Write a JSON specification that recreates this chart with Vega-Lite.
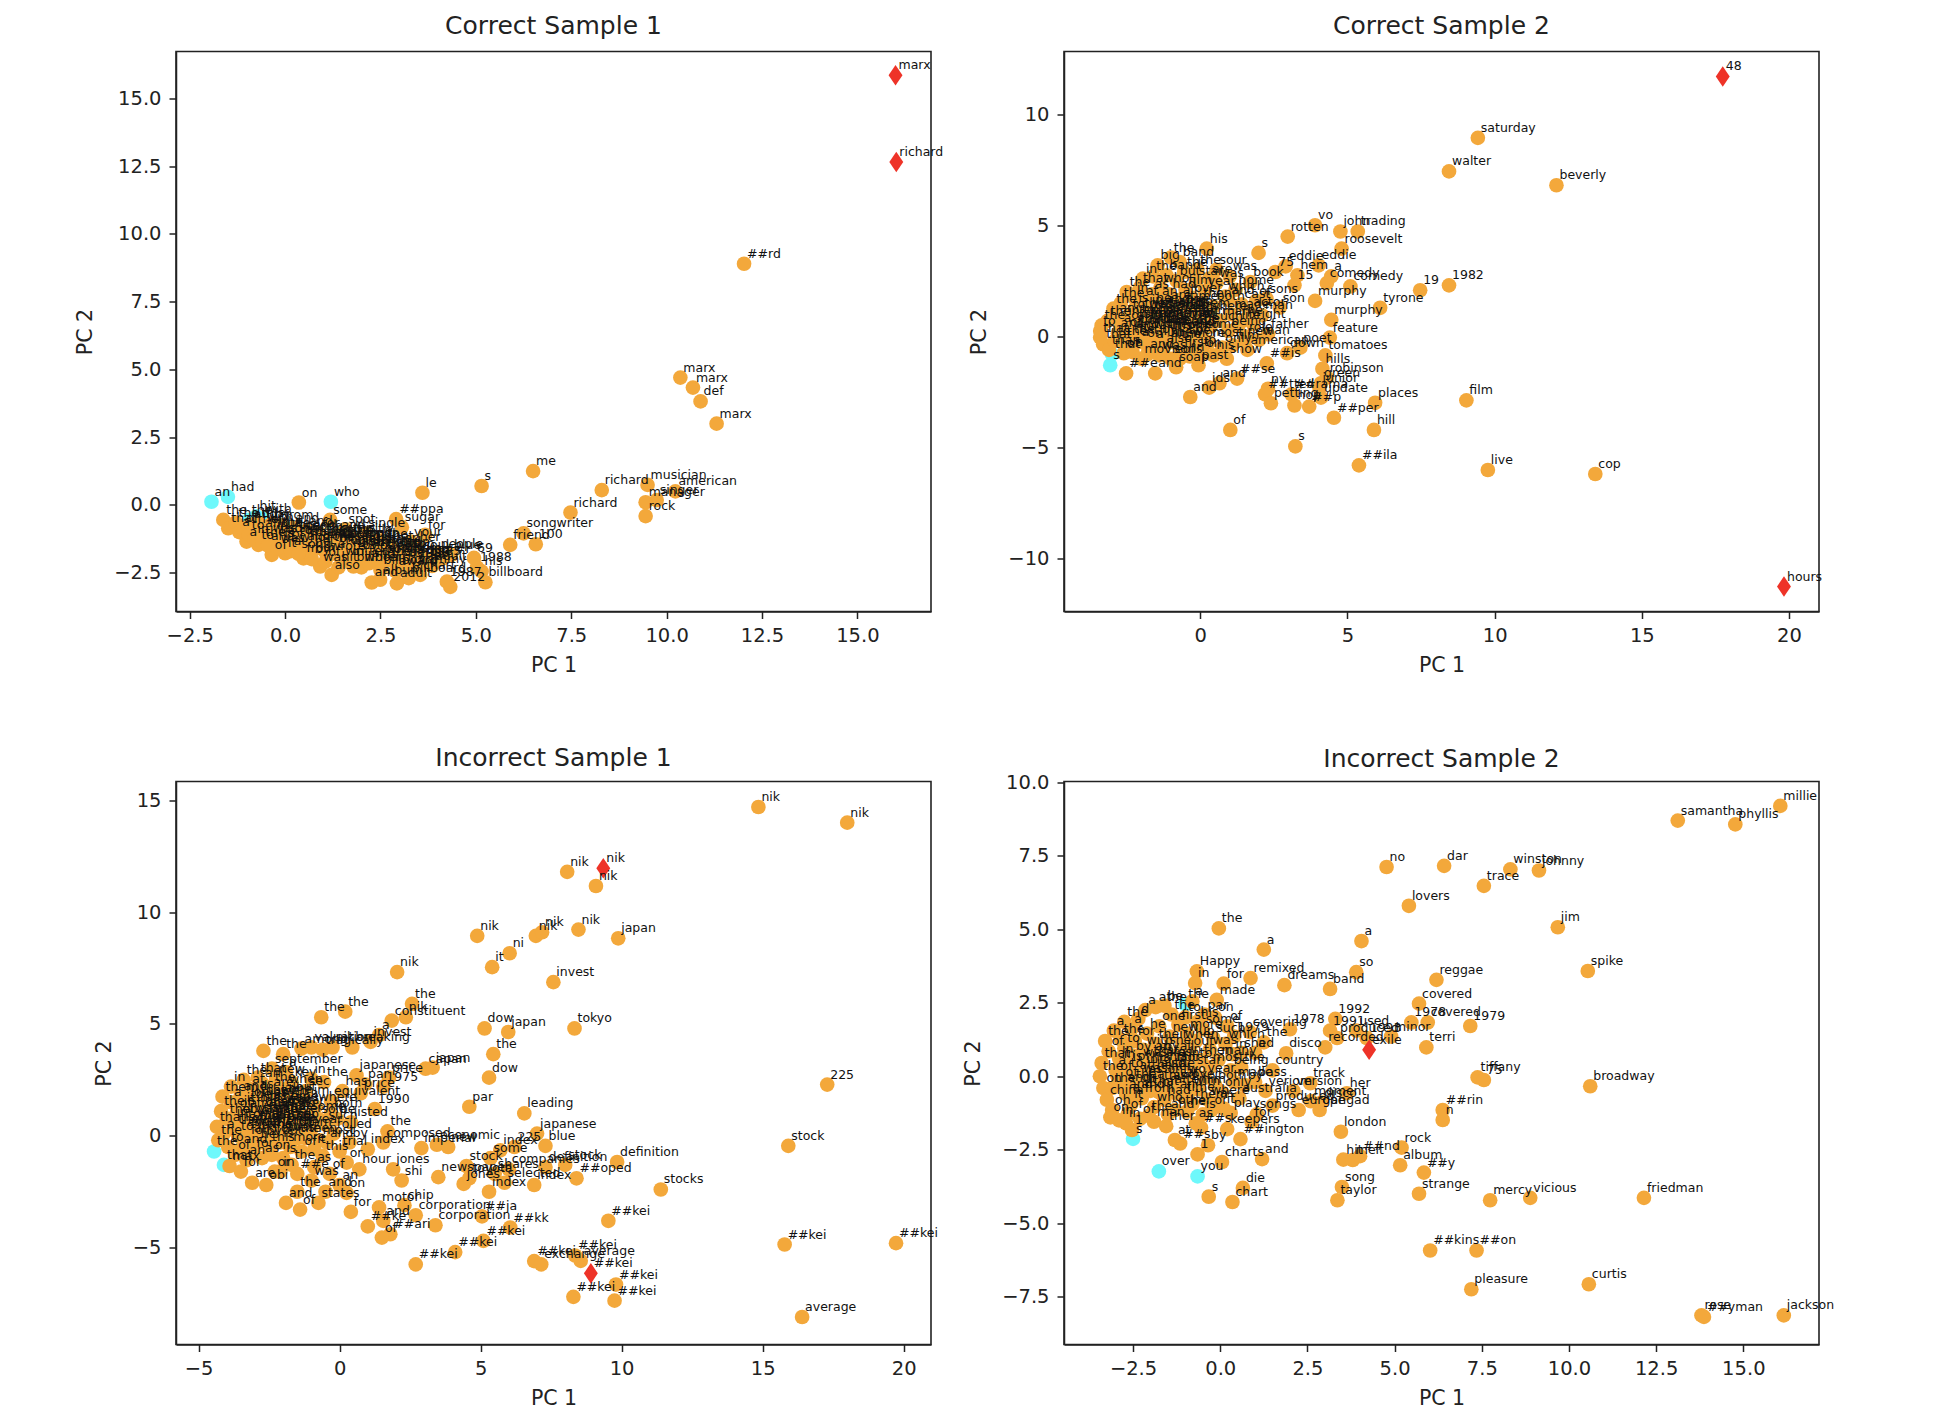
{"$schema":"https://vega.github.io/schema/vega-lite/v6.json","padding":{"left":74,"top":12.5,"right":0,"bottom":0},"background":"white","bounds":"flush","columns":2,"spacing":{"row":170,"column":133},
"config":{"view":{"stroke":"#222","strokeWidth":1.6},"axis":{"grid":false,"labelFont":"DejaVu Sans","titleFont":"DejaVu Sans","labelFontSize":19.5,"titleFontSize":20.5,"titleFontWeight":"normal","labelColor":"#222","titleColor":"#222","tickColor":"#222","domainColor":"#222","tickSize":7,"tickWidth":1.5,"domainWidth":1.5,"labelPadding":8,"labelOverlap":false,"labelFlush":false},"axisX":{"titlePadding":10},"axisY":{"titlePadding":18},"title":{"font":"DejaVu Sans","fontSize":25,"fontWeight":"normal","color":"#222","offset":13,"anchor":"middle"}},
"datasets":{
"a":[{"x":-1.93,"y":0.12,"t":"an","k":"c"},{"x":-1.5,"y":0.3,"t":"had","k":"c"},{"x":1.2,"y":0.12,"t":"who","k":"c"},{"x":-0.95,"y":-0.55,"t":"the","k":"c"},{"x":-0.75,"y":-0.42,"t":"hit","k":"c"},{"x":-0.6,"y":-0.5,"t":"with","k":"c"},
{"x":16.0,"y":15.85,"t":"marx","k":"r"},{"x":16.02,"y":12.65,"t":"richard","k":"r"},{"x":12.03,"y":8.9,"t":"##rd","k":"o"},{"x":10.36,"y":4.7,"t":"marx","k":"o"},{"x":10.69,"y":4.33,"t":"marx","k":"o"},{"x":10.89,"y":3.82,"t":"def","k":"o"},{"x":11.31,"y":3.0,"t":"marx","k":"o"},{"x":9.5,"y":0.74,"t":"musician","k":"o"},{"x":10.23,"y":0.5,"t":"american","k":"o"},{"x":8.3,"y":0.55,"t":"richard","k":"o"},{"x":9.45,"y":0.1,"t":"manager","k":"o"},{"x":9.74,"y":0.18,"t":"singer","k":"o"},{"x":9.45,"y":-0.41,"t":"rock","k":"o"},{"x":7.48,"y":-0.28,"t":"richard","k":"o"},{"x":6.5,"y":1.25,"t":"me","k":"o"},{"x":5.15,"y":0.7,"t":"s","k":"o"},{"x":3.6,"y":0.45,"t":"le","k":"o"},{"x":0.36,"y":0.09,"t":"on","k":"o"},{"x":5.9,"y":-1.47,"t":"friend","k":"o"},{"x":6.25,"y":-1.05,"t":"songwriter","k":"o"},{"x":6.57,"y":-1.45,"t":"100","k":"o"},{"x":5.25,"y":-2.85,"t":"billboard","k":"o"},{"x":4.33,"y":-3.02,"t":"2012","k":"o"},{"x":5.03,"y":-2.3,"t":"1988","k":"o"},{"x":4.95,"y":-1.95,"t":"69","k":"o"},{"x":5.15,"y":-2.45,"t":"his","k":"o"},{"x":4.24,"y":-2.83,"t":"1987","k":"o"},
{"x":-1.62,"y":-0.55,"t":"the","k":"o"},{"x":-1.49,"y":-0.86,"t":"that","k":"o"},{"x":-1.01,"y":-1.35,"t":"a","k":"o"},{"x":-0.7,"y":-1.47,"t":"to","k":"o"},{"x":-0.35,"y":-1.84,"t":"of","k":"o"},{"x":0.0,"y":-1.78,"t":"it","k":"o"},{"x":0.48,"y":-1.97,"t":"from","k":"o"},{"x":0.92,"y":-2.27,"t":"was","k":"o"},{"x":1.22,"y":-2.58,"t":"also","k":"o"},{"x":1.79,"y":-2.27,"t":"billboard","k":"o"},{"x":2.27,"y":-2.86,"t":"and","k":"o"},{"x":2.49,"y":-2.76,"t":"album","k":"o"},{"x":2.93,"y":-2.89,"t":"adult","k":"o"},{"x":3.24,"y":-2.7,"t":"billboard","k":"o"},{"x":3.54,"y":-2.58,"t":"chart","k":"o"},
{"x":1.18,"y":-0.55,"t":"some","k":"o"},{"x":1.58,"y":-0.9,"t":"spot","k":"o"},{"x":2.91,"y":-0.52,"t":"##ppa","k":"o"},{"x":3.06,"y":-0.82,"t":"sugar","k":"o"},{"x":3.67,"y":-1.1,"t":"for","k":"o"},{"x":3.3,"y":-1.35,"t":"your","k":"o"},{"x":3.45,"y":-1.55,"t":"her","k":"o"},{"x":2.1,"y":-1.05,"t":"single","k":"o"},{"x":2.45,"y":-1.3,"t":"le","k":"o"},{"x":2.75,"y":-1.5,"t":"hot","k":"o"},
{"x":-0.9,"y":-0.72,"t":"and","k":"o"},{"x":-0.7,"y":-0.65,"t":"this","k":"o"},{"x":-0.55,"y":-0.8,"t":"with","k":"o"},{"x":-0.35,"y":-0.7,"t":"by","k":"o"},{"x":-0.25,"y":-0.95,"t":"in","k":"o"},{"x":-0.1,"y":-0.75,"t":"from","k":"o"},{"x":0.05,"y":-1.05,"t":"the","k":"o"},{"x":0.2,"y":-0.85,"t":"and","k":"o"},{"x":0.3,"y":-1.1,"t":"on","k":"o"},{"x":0.45,"y":-1.25,"t":"at","k":"o"},{"x":0.55,"y":-0.95,"t":"and","k":"o"},{"x":0.65,"y":-1.15,"t":"song","k":"o"},{"x":0.8,"y":-1.35,"t":"band","k":"o"},{"x":0.9,"y":-1.05,"t":"for","k":"o"},{"x":1.0,"y":-1.25,"t":"the","k":"o"},{"x":1.15,"y":-1.5,"t":"one","k":"o"},{"x":1.25,"y":-1.2,"t":"music","k":"o"},{"x":1.35,"y":-1.4,"t":"album","k":"o"},{"x":1.5,"y":-1.65,"t":"top","k":"o"},{"x":1.6,"y":-1.3,"t":"title","k":"o"},{"x":1.75,"y":-1.5,"t":"single","k":"o"},{"x":1.85,"y":-1.75,"t":"chart","k":"o"},{"x":1.95,"y":-1.4,"t":"song","k":"o"},{"x":2.1,"y":-1.6,"t":"number","k":"o"},{"x":2.2,"y":-1.85,"t":"hot","k":"o"},{"x":2.35,"y":-1.55,"t":"us","k":"o"},{"x":2.45,"y":-1.75,"t":"record","k":"o"},{"x":2.6,"y":-2.0,"t":"songs","k":"o"},{"x":2.7,"y":-1.7,"t":"hit","k":"o"},{"x":2.85,"y":-1.9,"t":"peak","k":"o"},{"x":3.0,"y":-2.1,"t":"charts","k":"o"},{"x":3.1,"y":-1.75,"t":"pop","k":"o"},{"x":3.25,"y":-1.95,"t":"r","k":"o"},{"x":3.4,"y":-2.15,"t":"1986","k":"o"},{"x":3.55,"y":-1.85,"t":"soul","k":"o"},{"x":3.7,"y":-2.05,"t":"1985","k":"o"},{"x":3.85,"y":-2.25,"t":"adult","k":"o"},{"x":4.0,"y":-1.8,"t":"people","k":"o"},{"x":4.1,"y":-2.0,"t":"##r","k":"o"},{"x":4.35,"y":-1.85,"t":"blue","k":"o"},{"x":-0.4,"y":-1.2,"t":"was","k":"o"},{"x":-0.1,"y":-1.4,"t":"is","k":"o"},{"x":0.3,"y":-1.55,"t":"who","k":"o"},{"x":0.7,"y":-1.7,"t":"he","k":"o"},{"x":1.1,"y":-1.9,"t":"wrote","k":"o"},{"x":1.5,"y":-2.05,"t":"written","k":"o"},{"x":2.0,"y":-2.3,"t":"writer","k":"o"},{"x":2.5,"y":-2.4,"t":"billboard","k":"o"},{"x":2.9,"y":-2.45,"t":"award","k":"o"},{"x":3.3,"y":-2.35,"t":"grammy","k":"o"},
{"x":-0.8,"y":-0.9,"t":"the","k":"o"},{"x":-0.6,"y":-1.05,"t":"and","k":"o"},{"x":-0.45,"y":-0.9,"t":"of","k":"o"},{"x":-0.3,"y":-1.1,"t":"in","k":"o"},{"x":-0.15,"y":-1.0,"t":"the","k":"o"},{"x":0.0,"y":-1.2,"t":"song","k":"o"},{"x":0.15,"y":-1.05,"t":"a","k":"o"},{"x":0.3,"y":-1.3,"t":"to","k":"o"},{"x":0.45,"y":-1.1,"t":"band","k":"o"},{"x":0.6,"y":-1.35,"t":"for","k":"o"},{"x":0.75,"y":-1.2,"t":"it","k":"o"},{"x":0.9,"y":-1.45,"t":"and","k":"o"},{"x":1.05,"y":-1.35,"t":"from","k":"o"},{"x":1.2,"y":-1.55,"t":"the","k":"o"},{"x":1.35,"y":-1.6,"t":"of","k":"o"},{"x":1.5,"y":-1.45,"t":"album","k":"o"},{"x":1.65,"y":-1.7,"t":"was","k":"o"},{"x":1.8,"y":-1.6,"t":"hit","k":"o"},{"x":1.95,"y":-1.85,"t":"by","k":"o"},{"x":2.1,"y":-1.75,"t":"on","k":"o"},{"x":2.25,"y":-1.65,"t":"song","k":"o"},{"x":2.4,"y":-1.95,"t":"top","k":"o"},{"x":2.55,"y":-1.8,"t":"chart","k":"o"},{"x":2.7,"y":-2.05,"t":"the","k":"o"},{"x":2.85,"y":-1.75,"t":"and","k":"o"},{"x":3.0,"y":-1.95,"t":"album","k":"o"},{"x":3.15,"y":-2.15,"t":"us","k":"o"},{"x":3.3,"y":-1.8,"t":"top","k":"o"},{"x":3.45,"y":-2.0,"t":"song","k":"o"},{"x":3.6,"y":-2.2,"t":"hot","k":"o"},{"x":1.4,"y":-1.1,"t":"and","k":"o"},{"x":1.7,"y":-1.2,"t":"this","k":"o"},{"x":2.0,"y":-1.25,"t":"with","k":"o"},{"x":2.3,"y":-1.4,"t":"pop","k":"o"},{"x":2.6,"y":-1.45,"t":"the","k":"o"},{"x":-0.2,"y":-1.25,"t":"to","k":"o"},{"x":0.1,"y":-1.45,"t":"of","k":"o"},{"x":0.5,"y":-1.5,"t":"and","k":"o"},{"x":1.0,"y":-1.65,"t":"it","k":"o"},{"x":1.3,"y":-1.8,"t":"a","k":"o"},
{"x":-1.3,"y":-0.65,"t":"the","k":"o"},{"x":-1.2,"y":-1.0,"t":"a","k":"o"},{"x":-1.1,"y":-0.85,"t":"of","k":"o"},{"x":-0.95,"y":-1.1,"t":"to","k":"o"},{"x":-0.8,"y":-1.25,"t":"in","k":"o"},{"x":-0.6,"y":-1.35,"t":"the","k":"o"},{"x":-0.45,"y":-1.5,"t":"and","k":"o"},{"x":-0.2,"y":-1.6,"t":"was","k":"o"},{"x":0.15,"y":-1.7,"t":"a","k":"o"},{"x":0.35,"y":-1.8,"t":"song","k":"o"},{"x":0.7,"y":-2.0,"t":"by","k":"o"},{"x":1.05,"y":-2.1,"t":"of","k":"o"},{"x":1.4,"y":-2.3,"t":"hit","k":"o"},{"x":1.7,"y":-2.05,"t":"in","k":"o"},{"x":2.2,"y":-2.15,"t":"and","k":"o"}],
"b":[{"x":-3.06,"y":-1.29,"t":"s","k":"c"},{"x":-3.0,"y":-0.8,"t":"that","k":"c"},
{"x":17.75,"y":11.69,"t":"48","k":"r"},{"x":19.83,"y":-11.24,"t":"hours","k":"r"},{"x":9.43,"y":8.93,"t":"saturday","k":"o"},{"x":8.45,"y":7.42,"t":"walter","k":"o"},{"x":12.1,"y":6.8,"t":"beverly","k":"o"},{"x":8.45,"y":2.3,"t":"1982","k":"o"},{"x":7.47,"y":2.08,"t":"19","k":"o"},{"x":6.11,"y":1.29,"t":"tyrone","k":"o"},{"x":9.04,"y":-2.87,"t":"film","k":"o"},{"x":5.94,"y":-2.98,"t":"places","k":"o"},{"x":5.9,"y":-4.2,"t":"hill","k":"o"},{"x":4.54,"y":-3.65,"t":"##per","k":"o"},{"x":1.02,"y":-4.2,"t":"of","k":"o"},{"x":3.23,"y":-4.94,"t":"s","k":"o"},{"x":5.39,"y":-5.79,"t":"##ila","k":"o"},{"x":9.77,"y":-6.0,"t":"live","k":"o"},{"x":13.42,"y":-6.18,"t":"cop","k":"o"},{"x":2.97,"y":4.49,"t":"rotten","k":"o"},{"x":3.9,"y":5.0,"t":"vo","k":"o"},{"x":4.76,"y":4.72,"t":"john","k":"o"},{"x":5.35,"y":4.72,"t":"trading","k":"o"},{"x":4.8,"y":3.95,"t":"roosevelt","k":"o"},{"x":4.02,"y":3.2,"t":"eddie","k":"o"},{"x":0.22,"y":3.95,"t":"his","k":"o"},{"x":1.98,"y":3.76,"t":"s","k":"o"},{"x":5.1,"y":2.25,"t":"comedy","k":"o"},{"x":4.3,"y":2.4,"t":"comedy","k":"o"},{"x":2.55,"y":2.9,"t":"75","k":"o"},{"x":2.9,"y":3.15,"t":"eddie","k":"o"},{"x":3.3,"y":2.75,"t":"hem","k":"o"},{"x":4.45,"y":2.7,"t":"a","k":"o"},{"x":3.2,"y":2.3,"t":"15","k":"o"},{"x":3.9,"y":1.6,"t":"murphy","k":"o"},{"x":4.45,"y":0.75,"t":"murphy","k":"o"},{"x":4.4,"y":-0.05,"t":"feature","k":"o"},{"x":3.4,"y":-0.5,"t":"poet","k":"o"},{"x":4.25,"y":-0.85,"t":"tomatoes","k":"o"},{"x":2.95,"y":-0.75,"t":"down","k":"o"},{"x":4.15,"y":-1.45,"t":"hills","k":"o"},{"x":4.3,"y":-1.85,"t":"robinson","k":"o"},{"x":4.1,"y":-2.1,"t":"green","k":"o"},{"x":4.05,"y":-2.3,"t":"junior","k":"o"},{"x":3.1,"y":-2.6,"t":"##rama","k":"o"},{"x":2.3,"y":-2.35,"t":"ny","k":"o"},{"x":2.2,"y":-2.6,"t":"##tted","k":"o"},{"x":2.4,"y":-3.0,"t":"petting","k":"o"},{"x":3.2,"y":-3.1,"t":"hop","k":"o"},{"x":3.7,"y":-3.15,"t":"##p","k":"o"},{"x":4.1,"y":-2.75,"t":"update","k":"o"},
{"x":-0.34,"y":-2.72,"t":"and","k":"o"},{"x":-2.52,"y":-1.66,"t":"##e","k":"o"},{"x":-1.53,"y":-1.66,"t":"and","k":"o"},{"x":-0.82,"y":-1.38,"t":"soap","k":"o"},{"x":-0.06,"y":-1.29,"t":"past","k":"o"},{"x":1.25,"y":-1.89,"t":"##se","k":"o"},{"x":2.26,"y":-1.21,"t":"##is","k":"o"},{"x":0.3,"y":-2.3,"t":"ids","k":"o"},{"x":0.65,"y":-2.1,"t":"and","k":"o"},{"x":-2.0,"y":-1.0,"t":"movie","k":"o"},{"x":-1.0,"y":-1.0,"t":"sons","k":"o"},{"x":0.9,"y":-1.0,"t":"show","k":"o"},{"x":1.6,"y":-0.6,"t":"american","k":"o"},
{"x":-3.4,"y":-0.05,"t":"that","k":"o"},{"x":-3.35,"y":0.5,"t":"the","k":"o"},{"x":-3.4,"y":0.25,"t":"to","k":"o"},{"x":-3.3,"y":-0.35,"t":"that","k":"o"},{"x":-2.95,"y":1.25,"t":"the","k":"o"},{"x":-2.85,"y":0.85,"t":"an","k":"o"},{"x":-2.5,"y":2.0,"t":"the","k":"o"},{"x":-1.95,"y":2.6,"t":"in","k":"o"},{"x":-1.45,"y":3.2,"t":"big","k":"o"},{"x":-1.0,"y":3.55,"t":"the","k":"o"},{"x":-0.7,"y":3.35,"t":"band","k":"o"},{"x":-0.1,"y":3.0,"t":"the","k":"o"},{"x":0.55,"y":3.0,"t":"sour","k":"o"},{"x":1.0,"y":2.7,"t":"was","k":"o"},{"x":1.7,"y":2.45,"t":"book","k":"o"},{"x":2.25,"y":1.7,"t":"sons","k":"o"},{"x":2.7,"y":1.3,"t":"son","k":"o"},{"x":2.1,"y":0.95,"t":"man","k":"o"},{"x":1.8,"y":0.55,"t":"right","k":"o"},{"x":2.3,"y":0.1,"t":"father","k":"o"},{"x":1.5,"y":-0.2,"t":"new","k":"o"},
{"x":-2.7,"y":0.4,"t":"a","k":"o"},{"x":-2.55,"y":0.7,"t":"in","k":"o"},{"x":-2.5,"y":0.2,"t":"of","k":"o"},{"x":-2.4,"y":1.0,"t":"to","k":"o"},{"x":-2.35,"y":-0.1,"t":"the","k":"o"},{"x":-2.25,"y":0.5,"t":"and","k":"o"},{"x":-2.2,"y":1.3,"t":"is","k":"o"},{"x":-2.15,"y":0.0,"t":"it","k":"o"},{"x":-2.1,"y":0.8,"t":"by","k":"o"},{"x":-2.0,"y":0.3,"t":"for","k":"o"},{"x":-1.95,"y":1.6,"t":"at","k":"o"},{"x":-1.9,"y":-0.3,"t":"on","k":"o"},{"x":-1.85,"y":1.0,"t":"was","k":"o"},{"x":-1.8,"y":0.6,"t":"from","k":"o"},{"x":-1.7,"y":0.1,"t":"with","k":"o"},{"x":-1.65,"y":1.9,"t":"as","k":"o"},{"x":-1.6,"y":1.3,"t":"he","k":"o"},{"x":-1.55,"y":0.8,"t":"his","k":"o"},{"x":-1.5,"y":-0.2,"t":"film","k":"o"},{"x":-1.45,"y":0.35,"t":"that","k":"o"},{"x":-1.4,"y":1.6,"t":"an","k":"o"},{"x":-1.35,"y":2.2,"t":"who","k":"o"},{"x":-1.3,"y":1.05,"t":"their","k":"o"},{"x":-1.25,"y":-0.5,"t":"also","k":"o"},{"x":-1.2,"y":0.6,"t":"one","k":"o"},{"x":-1.15,"y":0.05,"t":"this","k":"o"},{"x":-1.1,"y":1.4,"t":"are","k":"o"},{"x":-1.05,"y":1.9,"t":"had","k":"o"},{"x":-1.0,"y":0.85,"t":"she","k":"o"},{"x":-0.95,"y":0.3,"t":"her","k":"o"},{"x":-0.9,"y":-0.25,"t":"new","k":"o"},{"x":-0.85,"y":1.15,"t":"after","k":"o"},{"x":-0.8,"y":2.5,"t":"but","k":"o"},{"x":-0.75,"y":0.55,"t":"other","k":"o"},{"x":-0.7,"y":1.65,"t":"all","k":"o"},{"x":-0.65,"y":-0.7,"t":"first","k":"o"},{"x":-0.6,"y":0.95,"t":"two","k":"o"},{"x":-0.55,"y":0.1,"t":"when","k":"o"},{"x":-0.5,"y":2.1,"t":"film","k":"o"},{"x":-0.45,"y":1.35,"t":"time","k":"o"},{"x":-0.4,"y":0.6,"t":"into","k":"o"},{"x":-0.35,"y":-0.3,"t":"more","k":"o"},{"x":-0.3,"y":1.75,"t":"over","k":"o"},{"x":-0.25,"y":0.3,"t":"out","k":"o"},{"x":-0.2,"y":1.05,"t":"them","k":"o"},{"x":-0.15,"y":2.5,"t":"star","k":"o"},{"x":-0.1,"y":-0.6,"t":"up","k":"o"},{"x":-0.05,"y":0.75,"t":"him","k":"o"},{"x":0.0,"y":1.5,"t":"then","k":"o"},{"x":0.05,"y":0.1,"t":"some","k":"o"},{"x":0.15,"y":2.05,"t":"year","k":"o"},{"x":0.2,"y":0.9,"t":"where","k":"o"},{"x":0.3,"y":-0.25,"t":"most","k":"o"},{"x":0.35,"y":0.45,"t":"such","k":"o"},{"x":0.45,"y":1.35,"t":"both","k":"o"},{"x":0.55,"y":2.4,"t":"was","k":"o"},{"x":0.65,"y":0.7,"t":"many","k":"o"},{"x":0.75,"y":-0.5,"t":"only","k":"o"},{"x":0.85,"y":1.8,"t":"which","k":"o"},{"x":0.95,"y":0.25,"t":"being","k":"o"},{"x":1.05,"y":1.0,"t":"made","k":"o"},{"x":1.2,"y":2.1,"t":"home","k":"o"},{"x":1.3,"y":0.5,"t":"life","k":"o"},{"x":1.4,"y":1.45,"t":"cast","k":"o"},{"x":1.55,"y":0.0,"t":"role","k":"o"},{"x":1.7,"y":1.1,"t":"actor","k":"o"},
{"x":-2.6,"y":-0.2,"t":"the","k":"o"},{"x":-2.45,"y":0.5,"t":"of","k":"o"},{"x":-2.3,"y":0.1,"t":"and","k":"o"},{"x":-2.3,"y":0.85,"t":"in","k":"o"},{"x":-2.15,"y":0.35,"t":"to","k":"o"},{"x":-2.1,"y":-0.25,"t":"a","k":"o"},{"x":-2.05,"y":0.6,"t":"film","k":"o"},{"x":-2.0,"y":1.05,"t":"the","k":"o"},{"x":-1.95,"y":0.05,"t":"of","k":"o"},{"x":-1.9,"y":0.4,"t":"and","k":"o"},{"x":-1.85,"y":0.75,"t":"was","k":"o"},{"x":-1.8,"y":-0.15,"t":"it","k":"o"},{"x":-1.75,"y":1.2,"t":"in","k":"o"},{"x":-1.7,"y":0.45,"t":"the","k":"o"},{"x":-1.65,"y":0.95,"t":"that","k":"o"},{"x":-1.6,"y":-0.35,"t":"a","k":"o"},{"x":-1.55,"y":0.2,"t":"he","k":"o"},{"x":-1.5,"y":0.6,"t":"to","k":"o"},{"x":-1.45,"y":1.05,"t":"of","k":"o"},{"x":-1.4,"y":-0.1,"t":"by","k":"o"},{"x":-1.35,"y":0.35,"t":"on","k":"o"},{"x":-1.3,"y":0.75,"t":"his","k":"o"},{"x":-1.25,"y":1.25,"t":"and","k":"o"},{"x":-1.2,"y":0.1,"t":"the","k":"o"},{"x":-1.15,"y":0.5,"t":"as","k":"o"},{"x":-1.1,"y":-0.3,"t":"an","k":"o"},{"x":-1.05,"y":0.9,"t":"for","k":"o"},{"x":-1.0,"y":0.25,"t":"at","k":"o"},{"x":-0.95,"y":0.65,"t":"in","k":"o"},{"x":-0.9,"y":1.1,"t":"with","k":"o"},{"x":-0.85,"y":0.05,"t":"from","k":"o"},{"x":-0.8,"y":0.45,"t":"is","k":"o"},{"x":-0.75,"y":-0.35,"t":"the","k":"o"},{"x":-0.7,"y":0.85,"t":"who","k":"o"},{"x":-0.65,"y":0.25,"t":"had","k":"o"},{"x":-0.6,"y":1.25,"t":"one","k":"o"},{"x":-0.55,"y":0.6,"t":"was","k":"o"},{"x":-0.5,"y":-0.15,"t":"she","k":"o"},{"x":-0.45,"y":0.95,"t":"her","k":"o"},{"x":-0.4,"y":0.2,"t":"and","k":"o"},{"x":-0.3,"y":0.7,"t":"film","k":"o"},{"x":-0.25,"y":-0.1,"t":"of","k":"o"},{"x":-0.15,"y":0.4,"t":"the","k":"o"},{"x":-0.1,"y":1.15,"t":"to","k":"o"},{"x":0.0,"y":0.6,"t":"in","k":"o"},
{"x":-3.15,"y":0.7,"t":"the","k":"o"},{"x":-3.1,"y":-0.6,"t":"than","k":"o"},{"x":-2.9,"y":-0.2,"t":"to","k":"o"},{"x":-2.8,"y":0.15,"t":"and","k":"o"},{"x":-2.7,"y":1.5,"t":"the","k":"o"},{"x":-2.6,"y":-0.75,"t":"of","k":"o"},{"x":-2.3,"y":-0.7,"t":"a","k":"o"},{"x":-2.25,"y":1.75,"t":"in","k":"o"},{"x":-2.05,"y":2.2,"t":"that","k":"o"},{"x":-1.8,"y":-0.8,"t":"and","k":"o"},{"x":-1.6,"y":2.7,"t":"the","k":"o"},{"x":-1.4,"y":-0.85,"t":"was","k":"o"},{"x":-1.15,"y":2.75,"t":"band","k":"o"},{"x":-0.7,"y":-1.0,"t":"of","k":"o"},{"x":-0.55,"y":2.9,"t":"the","k":"o"},{"x":-0.35,"y":-0.9,"t":"in","k":"o"},{"x":0.1,"y":-0.75,"t":"on","k":"o"},{"x":0.3,"y":2.6,"t":"are","k":"o"},{"x":0.45,"y":-0.85,"t":"his","k":"o"},{"x":0.95,"y":1.65,"t":"and","k":"o"},{"x":1.1,"y":-0.4,"t":"film","k":"o"},{"x":1.5,"y":0.75,"t":"he","k":"o"},{"x":1.9,"y":1.6,"t":"of","k":"o"},{"x":2.0,"y":-0.15,"t":"man","k":"o"}],
"c":[{"x":-4.45,"y":-0.7,"t":"the","k":"c"},{"x":-4.1,"y":-1.3,"t":"that","k":"c"},
{"x":14.85,"y":14.7,"t":"nik","k":"o"},{"x":18.0,"y":14.0,"t":"nik","k":"o"},{"x":8.07,"y":11.8,"t":"nik","k":"o"},{"x":9.09,"y":11.17,"t":"nik","k":"o"},{"x":9.88,"y":8.83,"t":"japan","k":"o"},{"x":8.47,"y":9.22,"t":"nik","k":"o"},{"x":6.96,"y":8.94,"t":"nik","k":"o"},{"x":7.18,"y":9.1,"t":"nik","k":"o"},{"x":4.88,"y":8.94,"t":"nik","k":"o"},{"x":6.03,"y":8.16,"t":"ni","k":"o"},{"x":5.41,"y":7.54,"t":"it","k":"o"},{"x":2.04,"y":7.32,"t":"nik","k":"o"},{"x":7.58,"y":6.87,"t":"invest","k":"o"},{"x":8.33,"y":4.8,"t":"tokyo","k":"o"},{"x":5.14,"y":4.8,"t":"dow","k":"o"},{"x":5.98,"y":4.64,"t":"japan","k":"o"},{"x":2.57,"y":5.9,"t":"the","k":"o"},{"x":-0.65,"y":5.3,"t":"the","k":"o"},{"x":0.2,"y":5.55,"t":"the","k":"o"},{"x":2.35,"y":5.3,"t":"nik","k":"o"},{"x":1.85,"y":5.15,"t":"constituent","k":"o"},{"x":1.4,"y":4.5,"t":"a","k":"o"},{"x":1.1,"y":4.2,"t":"invest","k":"o"},{"x":0.45,"y":3.95,"t":"breaking","k":"o"},{"x":-1.0,"y":3.95,"t":"valuation","k":"o"},{"x":-0.6,"y":3.85,"t":"tragically","k":"o"},{"x":-0.25,"y":3.95,"t":"nik","k":"o"},{"x":-1.35,"y":3.9,"t":"among","k":"o"},{"x":-2.7,"y":3.8,"t":"the","k":"o"},{"x":-2.0,"y":3.65,"t":"the","k":"o"},{"x":-2.4,"y":3.0,"t":"september","k":"o"},{"x":3.05,"y":3.0,"t":"capan","k":"o"},{"x":3.3,"y":3.05,"t":"japan","k":"o"},{"x":5.45,"y":3.65,"t":"the","k":"o"},{"x":5.3,"y":2.6,"t":"dow","k":"o"},{"x":4.6,"y":1.3,"t":"par","k":"o"},{"x":6.55,"y":1.0,"t":"leading","k":"o"},{"x":7.0,"y":0.1,"t":"japanese","k":"o"},{"x":7.3,"y":-0.45,"t":"blue","k":"o"},{"x":17.29,"y":2.29,"t":"225","k":"o"},{"x":15.91,"y":-0.45,"t":"stock","k":"o"},{"x":9.84,"y":-1.17,"t":"definition","k":"o"},{"x":11.39,"y":-2.4,"t":"stocks","k":"o"},{"x":9.53,"y":-3.8,"t":"##kei","k":"o"},{"x":15.78,"y":-4.86,"t":"##kei","k":"o"},{"x":19.73,"y":-4.8,"t":"##kei","k":"o"},{"x":16.4,"y":-8.1,"t":"average","k":"o"},{"x":9.8,"y":-6.65,"t":"##kei","k":"o"},{"x":9.75,"y":-7.37,"t":"##kei","k":"o"},{"x":8.29,"y":-7.2,"t":"##kei","k":"o"},{"x":8.55,"y":-5.59,"t":"average","k":"o"},{"x":8.35,"y":-5.35,"t":"##kei","k":"o"},{"x":6.9,"y":-5.6,"t":"##kei","k":"o"},{"x":7.15,"y":-5.75,"t":"exchange","k":"o"},{"x":2.7,"y":-5.75,"t":"##kei","k":"o"},{"x":4.1,"y":-5.2,"t":"##kei","k":"o"},{"x":5.1,"y":-4.7,"t":"##kei","k":"o"},{"x":6.05,"y":-4.1,"t":"##kk","k":"o"},{"x":5.05,"y":-3.6,"t":"##ja","k":"o"},{"x":5.3,"y":-2.5,"t":"index","k":"o"},{"x":6.0,"y":-1.5,"t":"companies","k":"o"},{"x":6.9,"y":-2.2,"t":"index","k":"o"},{"x":7.3,"y":-1.4,"t":"definition","k":"o"},{"x":8.0,"y":-1.3,"t":"stock","k":"o"},{"x":8.4,"y":-1.9,"t":"##oped","k":"o"},{"x":4.4,"y":-2.15,"t":"jones","k":"o"},{"x":3.5,"y":-1.85,"t":"newspaper","k":"o"},{"x":2.7,"y":-3.55,"t":"corporation","k":"o"},{"x":3.4,"y":-4.0,"t":"corporation","k":"o"},{"x":2.3,"y":-3.1,"t":"chip","k":"o"},{"x":1.8,"y":-4.4,"t":"##ari","k":"o"},{"x":1.5,"y":-4.55,"t":"of","k":"o"},{"x":1.0,"y":-4.05,"t":"##ke","k":"o"},{"x":1.55,"y":-3.8,"t":"and","k":"o"},{"x":0.4,"y":-3.4,"t":"for","k":"o"},{"x":-0.75,"y":-3.0,"t":"states","k":"o"},{"x":0.25,"y":-2.55,"t":"on","k":"o"},{"x":-1.4,"y":-3.3,"t":"of","k":"o"},{"x":1.4,"y":-3.2,"t":"motor","k":"o"},{"x":3.45,"y":-0.4,"t":"economic","k":"o"},{"x":2.9,"y":-0.55,"t":"imperial","k":"o"},{"x":3.85,"y":-0.5,"t":"new","k":"o"},{"x":4.5,"y":-1.35,"t":"stock","k":"o"},{"x":5.7,"y":-0.65,"t":"index","k":"o"},{"x":6.2,"y":-0.5,"t":"225","k":"o"},{"x":5.35,"y":-1.0,"t":"some","k":"o"},{"x":5.5,"y":-1.7,"t":"shares","k":"o"},{"x":5.85,"y":-2.1,"t":"selected","k":"o"},{"x":4.6,"y":-1.9,"t":"toyota","k":"o"},{"x":2.2,"y":-2.0,"t":"shi","k":"o"},{"x":1.9,"y":-1.5,"t":"jones","k":"o"},{"x":0.7,"y":-1.5,"t":"hour","k":"o"},{"x":1.0,"y":-0.6,"t":"index","k":"o"},{"x":1.7,"y":0.2,"t":"the","k":"o"},{"x":1.55,"y":-0.3,"t":"composed","k":"o"},{"x":1.55,"y":2.2,"t":"1975","k":"o"},{"x":1.25,"y":1.2,"t":"1990","k":"o"},{"x":0.75,"y":1.9,"t":"price","k":"o"},{"x":1.75,"y":2.6,"t":"price","k":"o"},{"x":0.9,"y":2.3,"t":"par","k":"o"},{"x":0.6,"y":2.7,"t":"japanese","k":"o"},{"x":-0.3,"y":1.55,"t":"equivalent","k":"o"},
{"x":-4.3,"y":-0.2,"t":"the","k":"o"},{"x":-4.35,"y":0.4,"t":"that","k":"o"},{"x":-4.2,"y":1.1,"t":"the","k":"o"},{"x":-4.15,"y":1.75,"t":"them","k":"o"},{"x":-3.9,"y":-1.35,"t":"max","k":"o"},{"x":-3.5,"y":-1.6,"t":"for","k":"o"},{"x":-3.1,"y":-2.1,"t":"are","k":"o"},{"x":-2.6,"y":-2.2,"t":"obi","k":"o"},{"x":-2.1,"y":-1.6,"t":"in","k":"o"},{"x":-1.9,"y":-3.0,"t":"and","k":"o"},{"x":-1.5,"y":-2.5,"t":"the","k":"o"},{"x":-1.0,"y":-2.0,"t":"was","k":"o"},{"x":-0.5,"y":-2.5,"t":"and","k":"o"},{"x":0.0,"y":-2.2,"t":"an","k":"o"},{"x":-1.5,"y":-1.7,"t":"##e","k":"o"},{"x":-0.9,"y":-1.4,"t":"as","k":"o"},{"x":-0.35,"y":-1.7,"t":"of","k":"o"},{"x":0.25,"y":-1.2,"t":"or","k":"o"},{"x":-0.6,"y":-0.9,"t":"this","k":"o"},{"x":0.0,"y":-0.7,"t":"trial","k":"o"},{"x":-0.2,"y":0.1,"t":"rolled","k":"o"},{"x":0.4,"y":0.6,"t":"listed","k":"o"},{"x":-0.75,"y":0.75,"t":"sold","k":"o"},{"x":-1.2,"y":2.0,"t":"sec","k":"o"},{"x":-1.7,"y":2.4,"t":"key","k":"o"},{"x":-2.4,"y":2.2,"t":"the","k":"o"},
{"x":-3.85,"y":1.5,"t":"a","k":"o"},{"x":-3.75,"y":0.6,"t":"in","k":"o"},{"x":-3.65,"y":1.0,"t":"of","k":"o"},{"x":-3.6,"y":0.0,"t":"to","k":"o"},{"x":-3.5,"y":1.8,"t":"and","k":"o"},{"x":-3.45,"y":0.4,"t":"is","k":"o"},{"x":-3.4,"y":1.25,"t":"it","k":"o"},{"x":-3.3,"y":0.75,"t":"by","k":"o"},{"x":-3.25,"y":-0.2,"t":"for","k":"o"},{"x":-3.2,"y":2.1,"t":"at","k":"o"},{"x":-3.15,"y":1.5,"t":"on","k":"o"},{"x":-3.1,"y":0.2,"t":"was","k":"o"},{"x":-3.05,"y":1.0,"t":"from","k":"o"},{"x":-3.0,"y":0.55,"t":"with","k":"o"},{"x":-2.95,"y":1.85,"t":"as","k":"o"},{"x":-2.9,"y":-0.35,"t":"he","k":"o"},{"x":-2.85,"y":1.3,"t":"his","k":"o"},{"x":-2.8,"y":0.8,"t":"that","k":"o"},{"x":-2.75,"y":2.35,"t":"an","k":"o"},{"x":-2.7,"y":0.1,"t":"who","k":"o"},{"x":-2.65,"y":1.6,"t":"their","k":"o"},{"x":-2.6,"y":1.05,"t":"also","k":"o"},{"x":-2.55,"y":0.45,"t":"one","k":"o"},{"x":-2.5,"y":-0.5,"t":"this","k":"o"},{"x":-2.45,"y":1.95,"t":"are","k":"o"},{"x":-2.4,"y":0.75,"t":"had","k":"o"},{"x":-2.35,"y":1.35,"t":"she","k":"o"},{"x":-2.3,"y":0.2,"t":"her","k":"o"},{"x":-2.25,"y":2.55,"t":"new","k":"o"},{"x":-2.2,"y":1.1,"t":"after","k":"o"},{"x":-2.15,"y":-0.2,"t":"but","k":"o"},{"x":-2.1,"y":0.55,"t":"other","k":"o"},{"x":-2.05,"y":1.7,"t":"all","k":"o"},{"x":-2.0,"y":0.95,"t":"first","k":"o"},{"x":-1.95,"y":0.0,"t":"two","k":"o"},{"x":-1.9,"y":2.1,"t":"when","k":"o"},{"x":-1.85,"y":1.35,"t":"time","k":"o"},{"x":-1.8,"y":0.4,"t":"into","k":"o"},{"x":-1.75,"y":-0.5,"t":"more","k":"o"},{"x":-1.7,"y":0.8,"t":"over","k":"o"},{"x":-1.65,"y":1.75,"t":"out","k":"o"},{"x":-1.55,"y":0.15,"t":"them","k":"o"},{"x":-1.5,"y":1.15,"t":"star","k":"o"},{"x":-1.4,"y":0.55,"t":"up","k":"o"},{"x":-1.3,"y":1.6,"t":"him","k":"o"},{"x":-1.2,"y":-0.1,"t":"then","k":"o"},{"x":-1.1,"y":0.9,"t":"some","k":"o"},{"x":-1.0,"y":0.3,"t":"year","k":"o"},{"x":-0.85,"y":1.3,"t":"where","k":"o"},{"x":-0.7,"y":-0.2,"t":"most","k":"o"},{"x":-0.5,"y":0.5,"t":"such","k":"o"},{"x":-0.3,"y":1.0,"t":"both","k":"o"},
{"x":-3.7,"y":0.3,"t":"the","k":"o"},{"x":-3.55,"y":0.75,"t":"of","k":"o"},{"x":-3.5,"y":1.1,"t":"in","k":"o"},{"x":-3.4,"y":0.15,"t":"and","k":"o"},{"x":-3.35,"y":0.55,"t":"to","k":"o"},{"x":-3.3,"y":1.0,"t":"a","k":"o"},{"x":-3.25,"y":1.4,"t":"the","k":"o"},{"x":-3.2,"y":0.35,"t":"of","k":"o"},{"x":-3.15,"y":-0.1,"t":"and","k":"o"},{"x":-3.1,"y":0.8,"t":"was","k":"o"},{"x":-3.05,"y":1.25,"t":"in","k":"o"},{"x":-3.0,"y":0.05,"t":"it","k":"o"},{"x":-2.95,"y":0.45,"t":"the","k":"o"},{"x":-2.9,"y":1.6,"t":"that","k":"o"},{"x":-2.85,"y":0.7,"t":"a","k":"o"},{"x":-2.8,"y":0.2,"t":"to","k":"o"},{"x":-2.75,"y":1.1,"t":"of","k":"o"},{"x":-2.7,"y":-0.25,"t":"by","k":"o"},{"x":-2.65,"y":0.5,"t":"on","k":"o"},{"x":-2.6,"y":1.35,"t":"his","k":"o"},{"x":-2.55,"y":0.85,"t":"and","k":"o"},{"x":-2.5,"y":0.1,"t":"the","k":"o"},{"x":-2.45,"y":1.5,"t":"as","k":"o"},{"x":-2.4,"y":0.4,"t":"an","k":"o"},{"x":-2.35,"y":-0.1,"t":"for","k":"o"},{"x":-2.3,"y":0.95,"t":"at","k":"o"},{"x":-2.25,"y":0.6,"t":"in","k":"o"},{"x":-2.2,"y":1.55,"t":"with","k":"o"},{"x":-2.15,"y":0.25,"t":"from","k":"o"},{"x":-2.1,"y":-0.3,"t":"is","k":"o"},{"x":-2.05,"y":0.75,"t":"the","k":"o"},{"x":-2.0,"y":1.2,"t":"who","k":"o"},{"x":-1.95,"y":0.45,"t":"had","k":"o"},{"x":-1.9,"y":1.65,"t":"one","k":"o"},{"x":-1.85,"y":-0.05,"t":"was","k":"o"},{"x":-1.8,"y":0.9,"t":"she","k":"o"},{"x":-1.75,"y":0.25,"t":"her","k":"o"},{"x":-1.7,"y":1.3,"t":"and","k":"o"},{"x":-1.6,"y":0.55,"t":"of","k":"o"},{"x":-1.5,"y":-0.1,"t":"the","k":"o"},{"x":-1.4,"y":1.0,"t":"to","k":"o"},{"x":-1.3,"y":0.3,"t":"in","k":"o"},
{"x":-4.1,"y":0.1,"t":"a","k":"o"},{"x":-4.0,"y":0.75,"t":"the","k":"o"},{"x":-3.95,"y":-0.5,"t":"to","k":"o"},{"x":-3.85,"y":2.2,"t":"in","k":"o"},{"x":-3.7,"y":-0.85,"t":"of","k":"o"},{"x":-3.5,"y":-0.6,"t":"and","k":"o"},{"x":-3.4,"y":2.5,"t":"the","k":"o"},{"x":-3.3,"y":-1.1,"t":"an","k":"o"},{"x":-3.05,"y":-0.75,"t":"for","k":"o"},{"x":-2.9,"y":2.6,"t":"that","k":"o"},{"x":-2.75,"y":-1.0,"t":"as","k":"o"},{"x":-2.4,"y":-0.85,"t":"on","k":"o"},{"x":-2.3,"y":-1.6,"t":"or","k":"o"},{"x":-2.0,"y":-1.0,"t":"is","k":"o"},{"x":-1.9,"y":2.85,"t":"a","k":"o"},{"x":-1.7,"y":-1.3,"t":"the","k":"o"},{"x":-1.35,"y":-0.7,"t":"of","k":"o"},{"x":-1.0,"y":2.55,"t":"in","k":"o"},{"x":-0.9,"y":-0.6,"t":"it","k":"o"},{"x":-0.55,"y":2.4,"t":"the","k":"o"},{"x":-0.45,"y":-0.3,"t":"and","k":"o"},{"x":-0.1,"y":0.75,"t":"be","k":"o"},{"x":0.1,"y":2.0,"t":"has","k":"o"},{"x":0.35,"y":-0.3,"t":"by","k":"o"},
{"x":8.91,"y":-6.15,"t":"##kei","k":"r"},{"x":9.35,"y":11.96,"t":"nik","k":"r"}],
"d":[{"x":-2.5,"y":-2.13,"t":"s","k":"c"},{"x":-1.76,"y":-3.24,"t":"over","k":"c"},{"x":-0.65,"y":-3.41,"t":"you","k":"c"},{"x":-1.0,"y":2.45,"t":"the","k":"c"},
{"x":16.06,"y":9.2,"t":"millie","k":"o"},{"x":14.77,"y":8.57,"t":"phyllis","k":"o"},{"x":13.12,"y":8.7,"t":"samantha","k":"o"},{"x":9.14,"y":7.0,"t":"johnny","k":"o"},{"x":8.32,"y":7.04,"t":"winston","k":"o"},{"x":6.42,"y":7.16,"t":"dar","k":"o"},{"x":4.77,"y":7.12,"t":"no","k":"o"},{"x":7.56,"y":6.48,"t":"trace","k":"o"},{"x":5.41,"y":5.8,"t":"lovers","k":"o"},{"x":9.68,"y":5.07,"t":"jim","k":"o"},{"x":-0.04,"y":5.03,"t":"the","k":"o"},{"x":1.25,"y":4.31,"t":"a","k":"o"},{"x":4.05,"y":4.6,"t":"a","k":"o"},{"x":10.54,"y":3.58,"t":"spike","k":"o"},{"x":3.9,"y":3.54,"t":"so","k":"o"},{"x":6.2,"y":3.28,"t":"reggae","k":"o"},{"x":5.7,"y":2.47,"t":"covered","k":"o"},{"x":7.17,"y":1.71,"t":"1979","k":"o"},{"x":5.48,"y":1.83,"t":"1978","k":"o"},{"x":5.95,"y":1.83,"t":"covered","k":"o"},{"x":5.91,"y":0.98,"t":"terri","k":"o"},{"x":7.38,"y":-0.04,"t":"tiffany","k":"o"},{"x":7.56,"y":-0.13,"t":"75","k":"o"},{"x":10.61,"y":-0.34,"t":"broadway","k":"o"},{"x":6.38,"y":-1.15,"t":"##rin","k":"o"},{"x":6.38,"y":-1.49,"t":"n","k":"o"},{"x":5.2,"y":-2.43,"t":"rock","k":"o"},{"x":5.16,"y":-3.03,"t":"album","k":"o"},{"x":5.84,"y":-3.28,"t":"##y","k":"o"},{"x":5.7,"y":-4.0,"t":"strange","k":"o"},{"x":7.74,"y":-4.22,"t":"mercy","k":"o"},{"x":8.89,"y":-4.14,"t":"vicious","k":"o"},{"x":12.15,"y":-4.14,"t":"friedman","k":"o"},{"x":6.02,"y":-5.93,"t":"##kins","k":"o"},{"x":7.35,"y":-5.93,"t":"##on","k":"o"},{"x":7.2,"y":-7.25,"t":"pleasure","k":"o"},{"x":10.57,"y":-7.08,"t":"curtis","k":"o"},{"x":13.8,"y":-8.14,"t":"rose","k":"o"},{"x":13.87,"y":-8.19,"t":"##yman","k":"o"},{"x":16.16,"y":-8.14,"t":"jackson","k":"o"},{"x":-0.33,"y":-4.1,"t":"s","k":"o"},{"x":0.35,"y":-4.28,"t":"chart","k":"o"},{"x":0.65,"y":-3.8,"t":"die","k":"o"},{"x":1.2,"y":-2.82,"t":"and","k":"o"},{"x":0.05,"y":-2.92,"t":"charts","k":"o"},{"x":-0.65,"y":-2.66,"t":"1","k":"o"},{"x":-0.35,"y":-2.35,"t":"by","k":"o"},{"x":-1.3,"y":-2.17,"t":"at","k":"o"},{"x":-1.15,"y":-2.29,"t":"##s","k":"o"},{"x":-2.53,"y":-1.83,"t":"1","k":"o"},{"x":0.58,"y":-2.14,"t":"##ington","k":"o"},{"x":0.2,"y":-1.8,"t":"keepers","k":"o"},{"x":0.9,"y":-1.55,"t":"for","k":"o"},{"x":1.05,"y":-1.3,"t":"songs","k":"o"},{"x":0.3,"y":-1.25,"t":"play","k":"o"},{"x":3.49,"y":-3.77,"t":"song","k":"o"},{"x":3.36,"y":-4.22,"t":"taylor","k":"o"},{"x":3.63,"y":-0.58,"t":"her","k":"o"},{"x":3.46,"y":-1.89,"t":"london","k":"o"},{"x":3.53,"y":-2.84,"t":"hit","k":"o"},{"x":3.8,"y":-2.85,"t":"melt","k":"o"},{"x":4.01,"y":-2.72,"t":"##nd","k":"o"},{"x":2.58,"y":-0.24,"t":"track","k":"o"},{"x":3.01,"y":0.98,"t":"recorded","k":"o"},{"x":1.89,"y":0.78,"t":"disco","k":"o"},{"x":1.5,"y":0.2,"t":"country","k":"o"},{"x":3.15,"y":2.97,"t":"band","k":"o"},{"x":1.84,"y":3.1,"t":"dreams","k":"o"},{"x":0.87,"y":3.34,"t":"remixed","k":"o"},{"x":-0.67,"y":3.57,"t":"Happy","k":"o"},{"x":-0.72,"y":3.17,"t":"in","k":"o"},{"x":0.1,"y":3.15,"t":"for","k":"o"},{"x":-0.8,"y":2.55,"t":"a","k":"o"},{"x":-0.45,"y":2.1,"t":"par","k":"o"},{"x":-0.1,"y":2.6,"t":"made","k":"o"},{"x":3.3,"y":1.95,"t":"1992","k":"o"},{"x":3.15,"y":1.55,"t":"1991","k":"o"},{"x":3.35,"y":1.3,"t":"produced","k":"o"},{"x":3.9,"y":1.55,"t":"used","k":"o"},{"x":4.2,"y":1.3,"t":"1993","k":"o"},{"x":4.9,"y":1.35,"t":"minor","k":"o"},{"x":2.0,"y":1.6,"t":"1978","k":"o"},{"x":1.25,"y":1.15,"t":"the","k":"o"},{"x":1.0,"y":0.8,"t":"a","k":"o"},{"x":0.85,"y":1.5,"t":"covering","k":"o"},{"x":0.6,"y":0.8,"t":"shed","k":"o"},{"x":0.4,"y":1.35,"t":"1979","k":"o"},{"x":-0.3,"y":0.9,"t":"was","k":"o"},{"x":1.0,"y":-0.2,"t":"bass","k":"o"},{"x":1.3,"y":-0.5,"t":"veriom","k":"o"},{"x":2.1,"y":-0.5,"t":"version","k":"o"},{"x":2.6,"y":-0.85,"t":"moment","k":"o"},{"x":2.25,"y":-1.15,"t":"europe","k":"o"},{"x":2.85,"y":-1.15,"t":"gangad","k":"o"},{"x":2.9,"y":-0.9,"t":"disco","k":"o"},{"x":1.5,"y":-1.0,"t":"produced","k":"o"},{"x":0.55,"y":-0.75,"t":"australia","k":"o"},
{"x":-3.45,"y":0.0,"t":"the","k":"o"},{"x":-3.4,"y":0.45,"t":"that","k":"o"},{"x":-3.35,"y":-0.4,"t":"on","k":"o"},{"x":-3.25,"y":-0.8,"t":"china","k":"o"},{"x":-3.2,"y":0.85,"t":"of","k":"o"},{"x":-3.1,"y":-1.15,"t":"oh","k":"o"},{"x":-2.9,"y":-1.5,"t":"in","k":"o"},{"x":-2.65,"y":-1.3,"t":"of","k":"o"},{"x":-2.85,"y":1.25,"t":"the","k":"o"},{"x":-2.55,"y":1.6,"t":"a","k":"o"},{"x":-2.35,"y":1.95,"t":"d","k":"o"},{"x":-1.85,"y":2.35,"t":"athe","k":"o"},{"x":-1.4,"y":2.1,"t":"the","k":"o"},{"x":-1.9,"y":-1.55,"t":"man","k":"o"},{"x":-1.55,"y":-1.7,"t":"ther","k":"o"},{"x":-0.95,"y":-1.2,"t":"he","k":"o"},{"x":-0.5,"y":-1.3,"t":"is","k":"o"},{"x":-0.1,"y":-0.9,"t":"as","k":"o"},{"x":-0.55,"y":-1.75,"t":"##s","k":"o"},
{"x":-3.0,"y":0.2,"t":"a","k":"o"},{"x":-2.9,"y":0.6,"t":"in","k":"o"},{"x":-2.8,"y":-0.2,"t":"of","k":"o"},{"x":-2.75,"y":0.95,"t":"to","k":"o"},{"x":-2.7,"y":-0.6,"t":"and","k":"o"},{"x":-2.6,"y":0.35,"t":"is","k":"o"},{"x":-2.55,"y":-0.95,"t":"it","k":"o"},{"x":-2.5,"y":0.7,"t":"by","k":"o"},{"x":-2.45,"y":1.2,"t":"for","k":"o"},{"x":-2.4,"y":0.05,"t":"at","k":"o"},{"x":-2.35,"y":-0.35,"t":"on","k":"o"},{"x":-2.3,"y":0.5,"t":"was","k":"o"},{"x":-2.25,"y":-0.75,"t":"from","k":"o"},{"x":-2.2,"y":0.9,"t":"with","k":"o"},{"x":-2.15,"y":-0.1,"t":"as","k":"o"},{"x":-2.1,"y":1.45,"t":"he","k":"o"},{"x":-2.05,"y":0.3,"t":"his","k":"o"},{"x":-2.0,"y":-0.5,"t":"that","k":"o"},{"x":-1.95,"y":0.7,"t":"an","k":"o"},{"x":-1.9,"y":-1.05,"t":"who","k":"o"},{"x":-1.85,"y":1.1,"t":"their","k":"o"},{"x":-1.8,"y":0.1,"t":"also","k":"o"},{"x":-1.75,"y":1.7,"t":"one","k":"o"},{"x":-1.7,"y":-0.3,"t":"this","k":"o"},{"x":-1.65,"y":0.5,"t":"are","k":"o"},{"x":-1.6,"y":-0.8,"t":"had","k":"o"},{"x":-1.55,"y":0.9,"t":"she","k":"o"},{"x":-1.5,"y":0.0,"t":"her","k":"o"},{"x":-1.45,"y":1.35,"t":"new","k":"o"},{"x":-1.4,"y":-0.45,"t":"after","k":"o"},{"x":-1.35,"y":0.3,"t":"but","k":"o"},{"x":-1.3,"y":-1.15,"t":"other","k":"o"},{"x":-1.25,"y":0.7,"t":"all","k":"o"},{"x":-1.2,"y":1.75,"t":"first","k":"o"},{"x":-1.15,"y":-0.1,"t":"two","k":"o"},{"x":-1.1,"y":1.1,"t":"when","k":"o"},{"x":-1.05,"y":-0.7,"t":"time","k":"o"},{"x":-1.0,"y":0.45,"t":"into","k":"o"},{"x":-0.95,"y":1.45,"t":"more","k":"o"},{"x":-0.9,"y":-0.25,"t":"over","k":"o"},{"x":-0.85,"y":0.85,"t":"out","k":"o"},{"x":-0.8,"y":-0.95,"t":"them","k":"o"},{"x":-0.75,"y":0.2,"t":"star","k":"o"},{"x":-0.7,"y":1.2,"t":"up","k":"o"},{"x":-0.6,"y":-0.45,"t":"him","k":"o"},{"x":-0.55,"y":0.55,"t":"then","k":"o"},{"x":-0.5,"y":1.6,"t":"some","k":"o"},{"x":-0.45,"y":-0.05,"t":"year","k":"o"},{"x":-0.35,"y":-0.8,"t":"where","k":"o"},{"x":-0.3,"y":0.3,"t":"most","k":"o"},{"x":-0.2,"y":1.3,"t":"such","k":"o"},{"x":-0.15,"y":-0.3,"t":"both","k":"o"},{"x":-0.05,"y":0.55,"t":"many","k":"o"},{"x":0.05,"y":-0.55,"t":"only","k":"o"},{"x":0.15,"y":1.1,"t":"which","k":"o"},{"x":0.3,"y":0.2,"t":"being","k":"o"},{"x":0.4,"y":-0.2,"t":"made","k":"o"},
{"x":-3.1,"y":-0.4,"t":"the","k":"o"},{"x":-2.95,"y":0.0,"t":"of","k":"o"},{"x":-2.85,"y":0.4,"t":"in","k":"o"},{"x":-2.75,"y":-0.35,"t":"and","k":"o"},{"x":-2.65,"y":0.1,"t":"to","k":"o"},{"x":-2.6,"y":-0.7,"t":"a","k":"o"},{"x":-2.5,"y":-0.25,"t":"the","k":"o"},{"x":-2.45,"y":0.35,"t":"of","k":"o"},{"x":-2.35,"y":-0.6,"t":"and","k":"o"},{"x":-2.3,"y":-0.05,"t":"was","k":"o"},{"x":-2.2,"y":0.25,"t":"in","k":"o"},{"x":-2.15,"y":-0.45,"t":"it","k":"o"},{"x":-2.05,"y":0.05,"t":"the","k":"o"},{"x":-2.0,"y":0.55,"t":"that","k":"o"},{"x":-1.9,"y":-0.25,"t":"a","k":"o"},{"x":-1.85,"y":0.25,"t":"to","k":"o"},{"x":-1.75,"y":-0.55,"t":"of","k":"o"},{"x":-1.7,"y":0.7,"t":"by","k":"o"},{"x":-1.6,"y":-0.1,"t":"on","k":"o"},{"x":-1.55,"y":0.35,"t":"his","k":"o"},{"x":-1.45,"y":-0.3,"t":"and","k":"o"},{"x":-1.4,"y":0.1,"t":"the","k":"o"},{"x":-1.3,"y":0.5,"t":"as","k":"o"},{"x":-1.25,"y":-0.6,"t":"an","k":"o"},{"x":-1.15,"y":0.3,"t":"for","k":"o"},{"x":-1.05,"y":-0.2,"t":"at","k":"o"},{"x":-0.95,"y":0.6,"t":"in","k":"o"},{"x":-0.85,"y":-0.5,"t":"with","k":"o"},
{"x":-3.3,"y":1.2,"t":"the","k":"o"},{"x":-3.15,"y":-1.4,"t":"on","k":"o"},{"x":-3.05,"y":1.55,"t":"a","k":"o"},{"x":-2.75,"y":1.85,"t":"the","k":"o"},{"x":-2.7,"y":-1.6,"t":"in","k":"o"},{"x":-2.3,"y":-1.45,"t":"of","k":"o"},{"x":-2.15,"y":2.25,"t":"a","k":"o"},{"x":-2.05,"y":-1.35,"t":"the","k":"o"},{"x":-1.6,"y":2.4,"t":"be","k":"o"},{"x":-1.5,"y":-1.3,"t":"and","k":"o"},{"x":-1.0,"y":2.0,"t":"to","k":"o"},{"x":-0.7,"y":-1.6,"t":"as","k":"o"},{"x":-0.65,"y":1.85,"t":"his","k":"o"},{"x":-0.25,"y":-1.15,"t":"or","k":"o"},{"x":-0.15,"y":2.0,"t":"on","k":"o"},{"x":0.1,"y":-1.1,"t":"it","k":"o"},{"x":0.2,"y":1.7,"t":"of","k":"o"},{"x":0.6,"y":0.3,"t":"the","k":"o"},{"x":0.7,"y":-0.3,"t":"by","k":"o"},{"x":0.35,"y":0.75,"t":"in","k":"o"},
{"x":4.27,"y":0.9,"t":"exile","k":"r"}]
},
"concat":[
{"data":{"name":"a"},"width":755,"height":560,"title":{"text":"Correct Sample 1","offset":13},"encoding":{"x":{"field":"x","type":"quantitative","scale":{"domain":[-2.86,16.93],"nice":false,"zero":false},"axis":{"title":"PC 1","values":[-2.5,0,2.5,5,7.5,10,12.5,15],"labelExpr":"replace(format(datum.value,'.1f'),'-','−')"}},"y":{"field":"y","type":"quantitative","scale":{"domain":[-3.93,16.73],"nice":false,"zero":false},"axis":{"title":"PC 2","values":[-2.5,0,2.5,5,7.5,10,12.5,15],"labelExpr":"replace(format(datum.value,'.1f'),'-','−')"}}},"layer":[{"mark":{"type":"point","filled":true,"size":215,"opacity":1},"encoding":{"color":{"field":"k","type":"nominal","legend":null,"scale":{"domain":["o","c","r"],"range":["#f3a83b","#6ef8fb","#ee3328"]}},"shape":{"field":"k","type":"nominal","legend":null,"scale":{"domain":["o","c","r"],"range":["circle","circle","M0,-1.4L0.95,0L0,1.4L-0.95,0Z"]}}}},{"mark":{"type":"text","align":"left","baseline":"alphabetic","dx":3,"dy":-6,"font":"DejaVu Sans","fontSize":12.5,"color":"#111"},"encoding":{"text":{"field":"t"}}}]},
{"data":{"name":"b"},"width":755,"height":560,"title":{"text":"Correct Sample 2","offset":13},"encoding":{"x":{"field":"x","type":"quantitative","scale":{"domain":[-4.63,21.02],"nice":false,"zero":false},"axis":{"title":"PC 1","values":[0,5,10,15,20],"labelExpr":"replace(format(datum.value,'d'),'-','−')"}},"y":{"field":"y","type":"quantitative","scale":{"domain":[-12.36,12.81],"nice":false,"zero":false},"axis":{"title":"PC 2","values":[-10,-5,0,5,10],"labelExpr":"replace(format(datum.value,'d'),'-','−')"}}},"layer":[{"mark":{"type":"point","filled":true,"size":215,"opacity":1},"encoding":{"color":{"field":"k","type":"nominal","legend":null,"scale":{"domain":["o","c","r"],"range":["#f3a83b","#6ef8fb","#ee3328"]}},"shape":{"field":"k","type":"nominal","legend":null,"scale":{"domain":["o","c","r"],"range":["circle","circle","M0,-1.4L0.95,0L0,1.4L-0.95,0Z"]}}}},{"mark":{"type":"text","align":"left","baseline":"alphabetic","dx":3,"dy":-6,"font":"DejaVu Sans","fontSize":12.5,"color":"#111"},"encoding":{"text":{"field":"t"}}}]},
{"data":{"name":"c"},"width":755,"height":563,"title":{"text":"Incorrect Sample 1","offset":10.5},"encoding":{"x":{"field":"x","type":"quantitative","scale":{"domain":[-5.8,20.97],"nice":false,"zero":false},"axis":{"title":"PC 1","values":[-5,0,5,10,15,20],"labelExpr":"replace(format(datum.value,'d'),'-','−')"}},"y":{"field":"y","type":"quantitative","scale":{"domain":[-9.33,15.84],"nice":false,"zero":false},"axis":{"title":"PC 2","values":[-5,0,5,10,15],"labelExpr":"replace(format(datum.value,'d'),'-','−')"}}},"layer":[{"mark":{"type":"point","filled":true,"size":215,"opacity":1},"encoding":{"color":{"field":"k","type":"nominal","legend":null,"scale":{"domain":["o","c","r"],"range":["#f3a83b","#6ef8fb","#ee3328"]}},"shape":{"field":"k","type":"nominal","legend":null,"scale":{"domain":["o","c","r"],"range":["circle","circle","M0,-1.4L0.95,0L0,1.4L-0.95,0Z"]}}}},{"mark":{"type":"text","align":"left","baseline":"alphabetic","dx":3,"dy":-6,"font":"DejaVu Sans","fontSize":12.5,"color":"#111"},"encoding":{"text":{"field":"t"}}}]},
{"data":{"name":"d"},"width":755,"height":563,"title":{"text":"Incorrect Sample 2","offset":0.5},"encoding":{"x":{"field":"x","type":"quantitative","scale":{"domain":[-4.48,17.17],"nice":false,"zero":false},"axis":{"title":"PC 1","values":[-2.5,0,2.5,5,7.5,10,12.5,15],"labelExpr":"replace(format(datum.value,'.1f'),'-','−')"}},"y":{"field":"y","type":"quantitative","scale":{"domain":[-9.13,10.03],"nice":false,"zero":false},"axis":{"title":"PC 2","values":[-7.5,-5,-2.5,0,2.5,5,7.5,10],"labelExpr":"replace(format(datum.value,'.1f'),'-','−')"}}},"layer":[{"mark":{"type":"point","filled":true,"size":215,"opacity":1},"encoding":{"color":{"field":"k","type":"nominal","legend":null,"scale":{"domain":["o","c","r"],"range":["#f3a83b","#6ef8fb","#ee3328"]}},"shape":{"field":"k","type":"nominal","legend":null,"scale":{"domain":["o","c","r"],"range":["circle","circle","M0,-1.4L0.95,0L0,1.4L-0.95,0Z"]}}}},{"mark":{"type":"text","align":"left","baseline":"alphabetic","dx":3,"dy":-6,"font":"DejaVu Sans","fontSize":12.5,"color":"#111"},"encoding":{"text":{"field":"t"}}}]}
]}
